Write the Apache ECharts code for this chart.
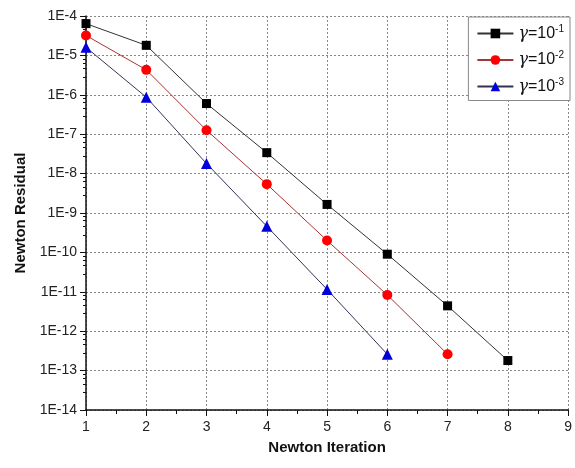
<!DOCTYPE html>
<html>
<head>
<meta charset="utf-8">
<script src="https://cdn.jsdelivr.net/npm/echarts@6/dist/echarts.min.js"></script>
<style>
html,body{margin:0;padding:0;background:#fff;}
#chart{width:575px;height:468px;}
</style>
</head>
<body>
<div id="chart"></div>
<script>
// 牛顿迭代残差数据
var iterations = [1, 2, 3, 4, 5, 6, 7, 8];
var res1 = [6.4e-5, 1.8e-5, 6.0e-7, 3.4e-8, 1.65e-9, 9.0e-11, 4.4e-12, 1.8e-13];
var res2 = [3.2e-5, 4.3e-6, 1.26e-7, 5.4e-9, 2.0e-10, 8.3e-12, 2.6e-13];
var res3 = [1.6e-5, 8.7e-7, 1.8e-8, 4.6e-10, 1.15e-11, 2.6e-13];
var seriesNames = ['g1', 'g2', 'g3'];
var legendExp = {g1: '-1', g2: '-2', g3: '-3'};

function pairs(ys){
	var arr = [];
	for(var i=0;i<ys.length;i++){
		arr.push([iterations[i], ys[i]]);
	}
	return arr;
}

var myChart = echarts.init(document.getElementById('chart'));
var textFont = 'Liberation Sans';
var option = {
	backgroundColor: '#fff',
	animation: false,
	grid: {
		left: 86,
		right: 5,
		top: 16,
		bottom: 58
	},
	legend: {
		orient: 'vertical',
		right: 5,
		top: 17,
		padding: [7, 6, 6, 8],
		itemGap: 9,
		itemWidth: 36,
		itemHeight: 12,
		borderColor: '#888',
		borderWidth: 1,
		backgroundColor: '#fff',
		data: seriesNames,
		formatter: function(name){
			return '{g|γ}{n|=10}{s|' + legendExp[name] + '}';
		},
		textStyle: {
			rich: {
				g: {fontFamily: 'DejaVu Serif', fontStyle: 'italic', fontSize: 16, color: '#111'},
				n: {fontFamily: textFont, fontSize: 16, color: '#111'},
				s: {fontFamily: textFont, fontSize: 10, color: '#111', verticalAlign: 'top', padding: [0, 0, 9, 0]}
			}
		}
	},
	xAxis: {
		type: 'value',
		min: 1,
		max: 9,
		interval: 1,
		name: 'Newton Iteration',
		nameLocation: 'middle',
		nameGap: 30,
		nameTextStyle: {fontFamily: textFont, fontWeight: 'bold', fontSize: 15, color: '#111'},
		axisLine: {show: true, lineStyle: {color: '#111', width: 1.5}},
		axisTick: {show: true, length: 6, lineStyle: {color: '#111'}},
		minorTick: {show: true, splitNumber: 2, length: 4, lineStyle: {color: '#111'}},
		axisLabel: {fontFamily: textFont, fontSize: 14, color: '#222', margin: 10},
		splitLine: {show: true, lineStyle: {color: '#888', type: [2, 2]}}
	},
	yAxis: {
		type: 'log',
		logBase: 10,
		min: 1e-14,
		max: 1e-4,
		interval: 1,
		name: 'Newton Residual',
		nameLocation: 'middle',
		nameGap: 57,
		nameTextStyle: {fontFamily: textFont, fontWeight: 'bold', fontSize: 15, color: '#111'},
		axisLine: {show: true, lineStyle: {color: '#111', width: 1.5}},
		axisTick: {show: true, length: 6, lineStyle: {color: '#111'}},
		minorTick: {show: true, splitNumber: 5, length: 3, lineStyle: {color: '#111'}},
		axisLabel: {
			fontFamily: textFont, fontSize: 14, color: '#222', margin: 9,
			formatter: function(v){
				var e = Math.round(Math.log(v) / Math.LN10);
				return '1E' + e;
			}
		},
		splitLine: {show: true, lineStyle: {color: '#888', type: [2, 2]}}
	},
	series: [
		{
			name: 'g1',
			type: 'line',
			data: pairs(res1),
			symbol: 'rect',
			symbolSize: 9,
			itemStyle: {color: '#000'},
			lineStyle: {color: '#333', width: 1}
		},
		{
			name: 'g2',
			type: 'line',
			data: pairs(res2),
			symbol: 'circle',
			symbolSize: 10,
			itemStyle: {color: '#f00'},
			lineStyle: {color: '#a33', width: 1}
		},
		{
			name: 'g3',
			type: 'line',
			data: pairs(res3),
			symbol: 'triangle',
			symbolSize: 11,
			itemStyle: {color: '#00d'},
			lineStyle: {color: '#335', width: 1}
		}
	]
};
myChart.setOption(option);
</script>
</body>
</html>
